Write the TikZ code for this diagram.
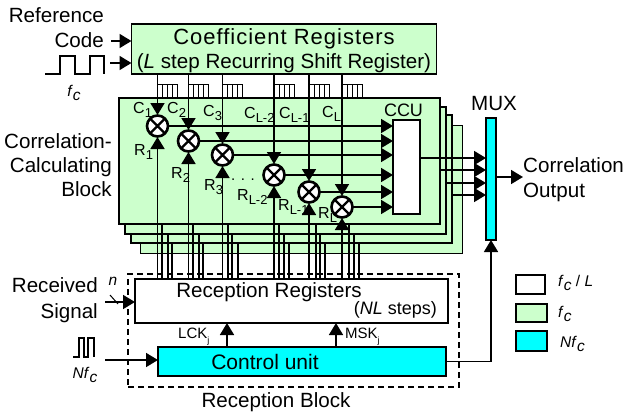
\documentclass[tikz,border=0pt]{standalone}
\usepackage{fontspec}
\setmainfont{Liberation Sans}
\usepackage{tikz}
\usetikzlibrary{arrows.meta}

\definecolor{blockgreen}{HTML}{CCFFCC}
\definecolor{fastcyan}{HTML}{00FFFF}

\newcommand{\sublab}[2]{#1\raisebox{-4.5pt}{\fontsize{13}{14}\selectfont #2}}
\newcommand{\fcsub}{\textit{f}\raisebox{-3.5pt}{\textit{c}}}

\tikzset{
	box/.style={draw=black, line width=1.6pt, inner sep=0pt, outer sep=0pt},
	greenbox/.style={box, fill=blockgreen},
	cyanbox/.style={box, fill=fastcyan},
	whitebox/.style={box, fill=white},
	big/.style={inner sep=0pt, font=\fontsize{20.6}{24}\selectfont},
	small/.style={inner sep=0pt, anchor=base west, font=\fontsize{16}{16}\selectfont},
	legendtext/.style={inner sep=0pt, anchor=west, font=\fontsize{15.5}{17}\selectfont},
	mult/.style={circle, draw=black, fill=white, line width=2.6pt, minimum size=21pt, inner sep=0pt, outer sep=0.5pt,
		path picture={\draw[line width=2.4pt] (path picture bounding box.north west) -- (path picture bounding box.south east)
			(path picture bounding box.north east) -- (path picture bounding box.south west);}},
	sig/.style={line width=1.6pt},
	sigarrow/.style={sig, -{Triangle[length=12pt,width=14pt]}},
	comb/.style={line width=1pt},
}

\begin{document}
\begin{tikzpicture}[x=1pt,y=-1pt]
	\useasboundingbox (0,0) rectangle (624,415);
	% correlation blocks, back to front
	\node[greenbox, line width=1pt, minimum width=322pt, minimum height=128pt] (blk4) at (301,189) {};
	\node[greenbox, minimum width=321pt, minimum height=128pt] (blk3) at (291.5,179) {};
	\node[greenbox, minimum width=321pt, minimum height=127pt] (blk2) at (285.5,170.5) {};
	\node[greenbox, minimum width=321pt, minimum height=126pt] (blk1) at (279.5,161) {};

	\node[greenbox, minimum width=305pt, minimum height=50pt] (coef) at (284,49) {};
	\node[big, align=center] (coeftext) at (284,50.5)
		{{\addfontfeature{LetterSpace=4.5}\fontsize{22}{24}\selectfont Coefficient Registers}\\(\textit{L} step Recurring Shift Register)};
	\node[whitebox, minimum width=27pt, minimum height=94pt] (ccu) at (406.5,167) {};
	\node[inner sep=0pt, font=\fontsize{18}{20}\selectfont] (ccutext) at (403.5,110) {CCU};
	\node[cyanbox, minimum width=10pt, minimum height=122pt] (mux) at (491,179) {};
	\node[big] (muxtext) at (494,104) {MUX};

	\node[whitebox, minimum width=313pt, minimum height=44pt] (rxreg) at (291.5,301) {};
	\node[cyanbox, minimum width=288pt, minimum height=29pt] (ctrl) at (302,361.5) {};
	\node[draw=black, line width=1.3pt, dash pattern=on 6pt off 4pt, inner sep=0pt, minimum width=331pt, minimum height=113pt] (rxblock) at (293.5,330.5) {};
	\node[big] (rxtext) at (269,292) {Reception Registers};
	\node[inner sep=0pt, anchor=east, font=\fontsize{18}{20}\selectfont] (nltext) at (437,310) {(\textit{NL} steps)};
	\node[big, font=\fontsize{21}{24}\selectfont] (ctrltext) at (265,362) {Control unit};
	\node[big] (rxblocktext) at (276,402) {Reception Block};

	% multipliers
	\node[mult] (m1) at (157.5,126) {};
	\node[mult] (m2) at (188.5,141) {};
	\node[mult] (m3) at (222.5,155) {};
	\node[mult] (m4) at (274,175) {};
	\node[mult] (m5) at (309,192) {};
	\node[mult] (m6) at (342,207) {};

	% shift register combs
	\foreach \i in {1,...,6} {
		\coordinate (combtop\i) at (m\i |- 0,84);
		\draw[comb] (combtop\i) -- ++(20,0);
		\foreach \k in {5,10,15,20}
			\draw[comb] ([xshift=\k pt]combtop\i) -- ++(0,14);
		\draw[sigarrow] (coef.south -| m\i) -- (m\i.north);
		\draw[sigarrow] (rxreg.north -| m\i) -- (m\i.south);
		\draw[sigarrow] (m\i.east) -- (ccu.west |- m\i);
	}

	% lines of the hidden blocks
	\foreach \x/\y/\z in {162/168/172, 193/199/203, 228/232/238, 279/284/289, 316/320/325, 349/354/359} {
		\draw[sig] (\x,0 |- rxreg.north) -- (\x,0 |- blk1.south);
		\draw[sig] (\y,0 |- rxreg.north) -- (\y,0 |- blk2.south);
		\draw[sig] (\z,0 |- rxreg.north) -- (\z,0 |- blk3.south);
	}

	% into the multiplexer
	\draw[sigarrow] (ccu.east |- 0,158) -- (mux.west |- 0,158);
	\draw[sigarrow] (blk1.east |- 0,170) -- (mux.west |- 0,170);
	\draw[sigarrow] (blk2.east |- 0,183) -- (mux.west |- 0,183);
	\draw[sigarrow] (blk3.east |- 0,195) -- (mux.west |- 0,195);
	\coordinate (muxout) at (523,177);
	\draw[sigarrow] (mux.east |- muxout) -- (muxout);
	\draw[sigarrow] (ctrl.east) -| (mux.south);
	\draw[sigarrow] (ctrl.north -| 227,0) -- (rxreg.south -| 227,0);
	\draw[sigarrow] (ctrl.north -| 336,0) -- (rxreg.south -| 336,0);

	% left side inputs
	\node[big, anchor=east, align=right, font=\fontsize{20.6}{25}\selectfont] (reftext) at (104,27.5) {Reference\\Code};
	\coordinate (refstart) at (111,41);
	\coordinate (clkstart) at (110,63);
	\draw[sigarrow] (refstart) -- (coef.west |- refstart);
	\draw[sigarrow] (clkstart) -- (coef.west |- clkstart);
	\draw[sig] (45,74) -- (60,74) -- (60,56) -- (75,56) -- (75,74) -- (90,74) -- (90,56) -- (104,56) -- (104,74);
	\node[legendtext, anchor=center] (fctext) at (74,93) {\fcsub};

	\node[big, anchor=east, align=right] (blocktext) at (112,165) {Correlation-\\Calculating\\Block};

	\node[big, anchor=east, align=right, font=\fontsize{20.6}{26}\selectfont] (rxsigtext) at (98,300) {Received\\Signal};
	\coordinate (rxstart) at (105,302);
	\coordinate (nfstart) at (105,360);
	\draw[sigarrow] (rxstart) -- (rxreg.west |- rxstart);
	\draw[sig, line width=1pt] (110,295) -- (118,304);
	\node[legendtext, anchor=center] (ntext) at (113,281) {\textit{n}};
	\draw[sig] (73,357) -- (79,357) -- (79,338) -- (84,338) -- (84,357) -- (88,357) -- (88,338) -- (94,338) -- (94,357);
	\draw[sigarrow] (nfstart) -- (ctrl.west |- nfstart);
	\node[legendtext, anchor=center] (nftext) at (85,375) {\textit{N}\fcsub};

	% coefficient and reception labels
	\foreach \nm/\x/\y/\s in {c1/133/113/1, c2/167/113/2, c3/203/116/3, c4/244/118/L-2, c5/279/118/L-1, c6/322/117/L}
		\node[small] (\nm) at (\x,\y) {\sublab{C}{\s}};
	\foreach \nm/\x/\y/\s in {r1/134/155/1, r2/171/178/2, r3/204/190/3, r4/237/200/L-2, r5/278/210/L-1, r6/318/218/L}
		\node[small] (\nm) at (\x,\y) {\sublab{R}{\s}};
	\node[small, font=\fontsize{15}{16}\selectfont] (dots) at (231,180) {. . .};

	\node[small, font=\fontsize{15}{16}\selectfont] (lck) at (178,338) {LCK\raisebox{-5pt}{\fontsize{9}{9}\selectfont j}};
	\node[small, font=\fontsize{15}{16}\selectfont] (msk) at (345,338) {MSK\raisebox{-5pt}{\fontsize{9}{9}\selectfont j}};

	\node[draw=none, inner sep=0pt, anchor=west, font=\fontsize{20.6}{25}\selectfont, align=left] (outtext) at (523,179.5) {Correlation\\Output};

	% legend
	\node[whitebox, minimum width=29pt, minimum height=19pt] (legwhite) at (530.5,284.5) {};
	\node[greenbox, minimum width=31pt, minimum height=18pt] (leggreen) at (531.5,313) {};
	\node[cyanbox, minimum width=31pt, minimum height=20pt] (legcyan) at (531.5,341) {};
	\node[legendtext] (legwhitetext) at (558,283) {\fcsub{} / \textit{L}};
	\node[legendtext] (leggreentext) at (558,314) {\fcsub};
	\node[legendtext] (legcyantext) at (560,344) {\textit{N}\fcsub};
\end{tikzpicture}
\end{document}
